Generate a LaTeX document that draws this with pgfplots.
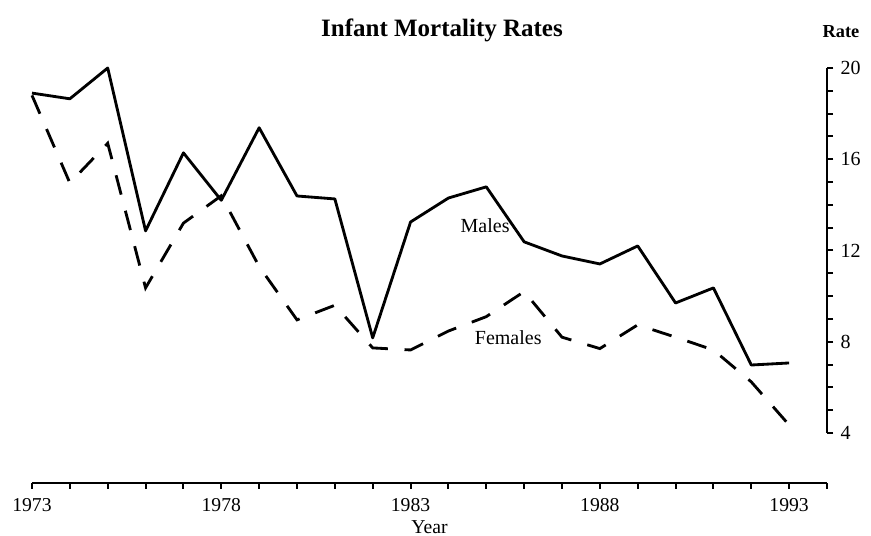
\documentclass[border=0pt]{standalone}
\usepackage{fontspec}
\setmainfont{Liberation Serif}
\usepackage{pgfplots}
\pgfplotsset{compat=1.18}

% infant mortality rates per year
\pgfplotstableread{
year males females
1973 18.9 18.8
1974 18.65 14.96
1975 20.0 16.7
1976 12.86 10.36
1977 16.28 13.2
1978 14.2 14.4
1979 17.38 11.3
1980 14.39 8.96
1981 14.26 9.6
1982 8.17 7.73
1983 13.25 7.64
1984 14.3 8.47
1985 14.79 9.1
1986 12.38 10.2
1987 11.76 8.2
1988 11.41 7.7
1989 12.2 8.74
1990 9.70 8.2
1991 10.36 7.64
1992 6.98 6.24
1993 7.07 4.35
}\rates

\begin{document}
\begin{tikzpicture}
\useasboundingbox (-19.2pt,-31.8pt) rectangle (503.4pt,289.8pt);
% x axis, down to below the rate scale
\begin{axis}[
  at={(0pt,0pt)}, anchor=south west,
  scale only axis,
  width=477pt, height=249pt,
  xmin=1973, xmax=1994,
  ymin=1.807, ymax=20,
  axis x line*=bottom,
  axis y line=none,
  x axis line style={-, line width=1.6pt},
  xtick={1973,1978,...,1993},
  minor xtick={1973,...,1994},
  ytick=\empty,
  tick align=outside,
  major tick length=3.5pt, minor tick length=3.5pt,
  tick style={black, line width=1.2pt},
  xticklabel style={/pgf/number format/1000 sep={}, font=\fontsize{11.8}{14}\selectfont, yshift=-2pt},
  /pgf/number format/assume math mode=true,
  xlabel={Year},
  xlabel style={at={(axis description cs:0.5,0)}, anchor=center, yshift=-26.4pt, font=\fontsize{11.8}{14}\selectfont},
]
\end{axis}
% rate scale on the right, 4 to 20
\begin{axis}[
  at={(0pt,30pt)}, anchor=south west,
  scale only axis,
  width=477pt, height=219pt,
  xmin=1973, xmax=1994,
  ymin=4, ymax=20,
  axis x line=none,
  axis y line*=right,
  y axis line style={-, line width=1.6pt},
  ytick={4,8,...,20},
  minor ytick={4,...,20},
  tick align=outside,
  major tick length=3.6pt, minor tick length=3.6pt,
  tick style={black, line width=1.2pt},
  yticklabel style={font=\fontsize{12}{14}\selectfont, anchor=west, xshift=1pt},
  /pgf/number format/assume math mode=true,
  clip=false,
]
\addplot[black, line width=1.7pt, line join=round] table[x=year, y=males] {\rates};
\addplot[black, line width=1.7pt, dash pattern=on 12pt off 10pt] table[x=year, y=females] {\rates};
\node[font=\fontsize{12}{14}\selectfont] at (axis cs:1984.97,13.08) {Males};
\node[font=\fontsize{12}{14}\selectfont, fill=white, inner sep=1pt] at (axis cs:1985.58,8.17) {Females};
\end{axis}
\node[font=\fontsize{15}{18}\bfseries\selectfont] at (246pt,271.8pt) {Infant Mortality Rates};
\node[font=\fontsize{11}{13}\bfseries\selectfont] at (485.4pt,270.6pt) {Rate};
\end{tikzpicture}
\end{document}
